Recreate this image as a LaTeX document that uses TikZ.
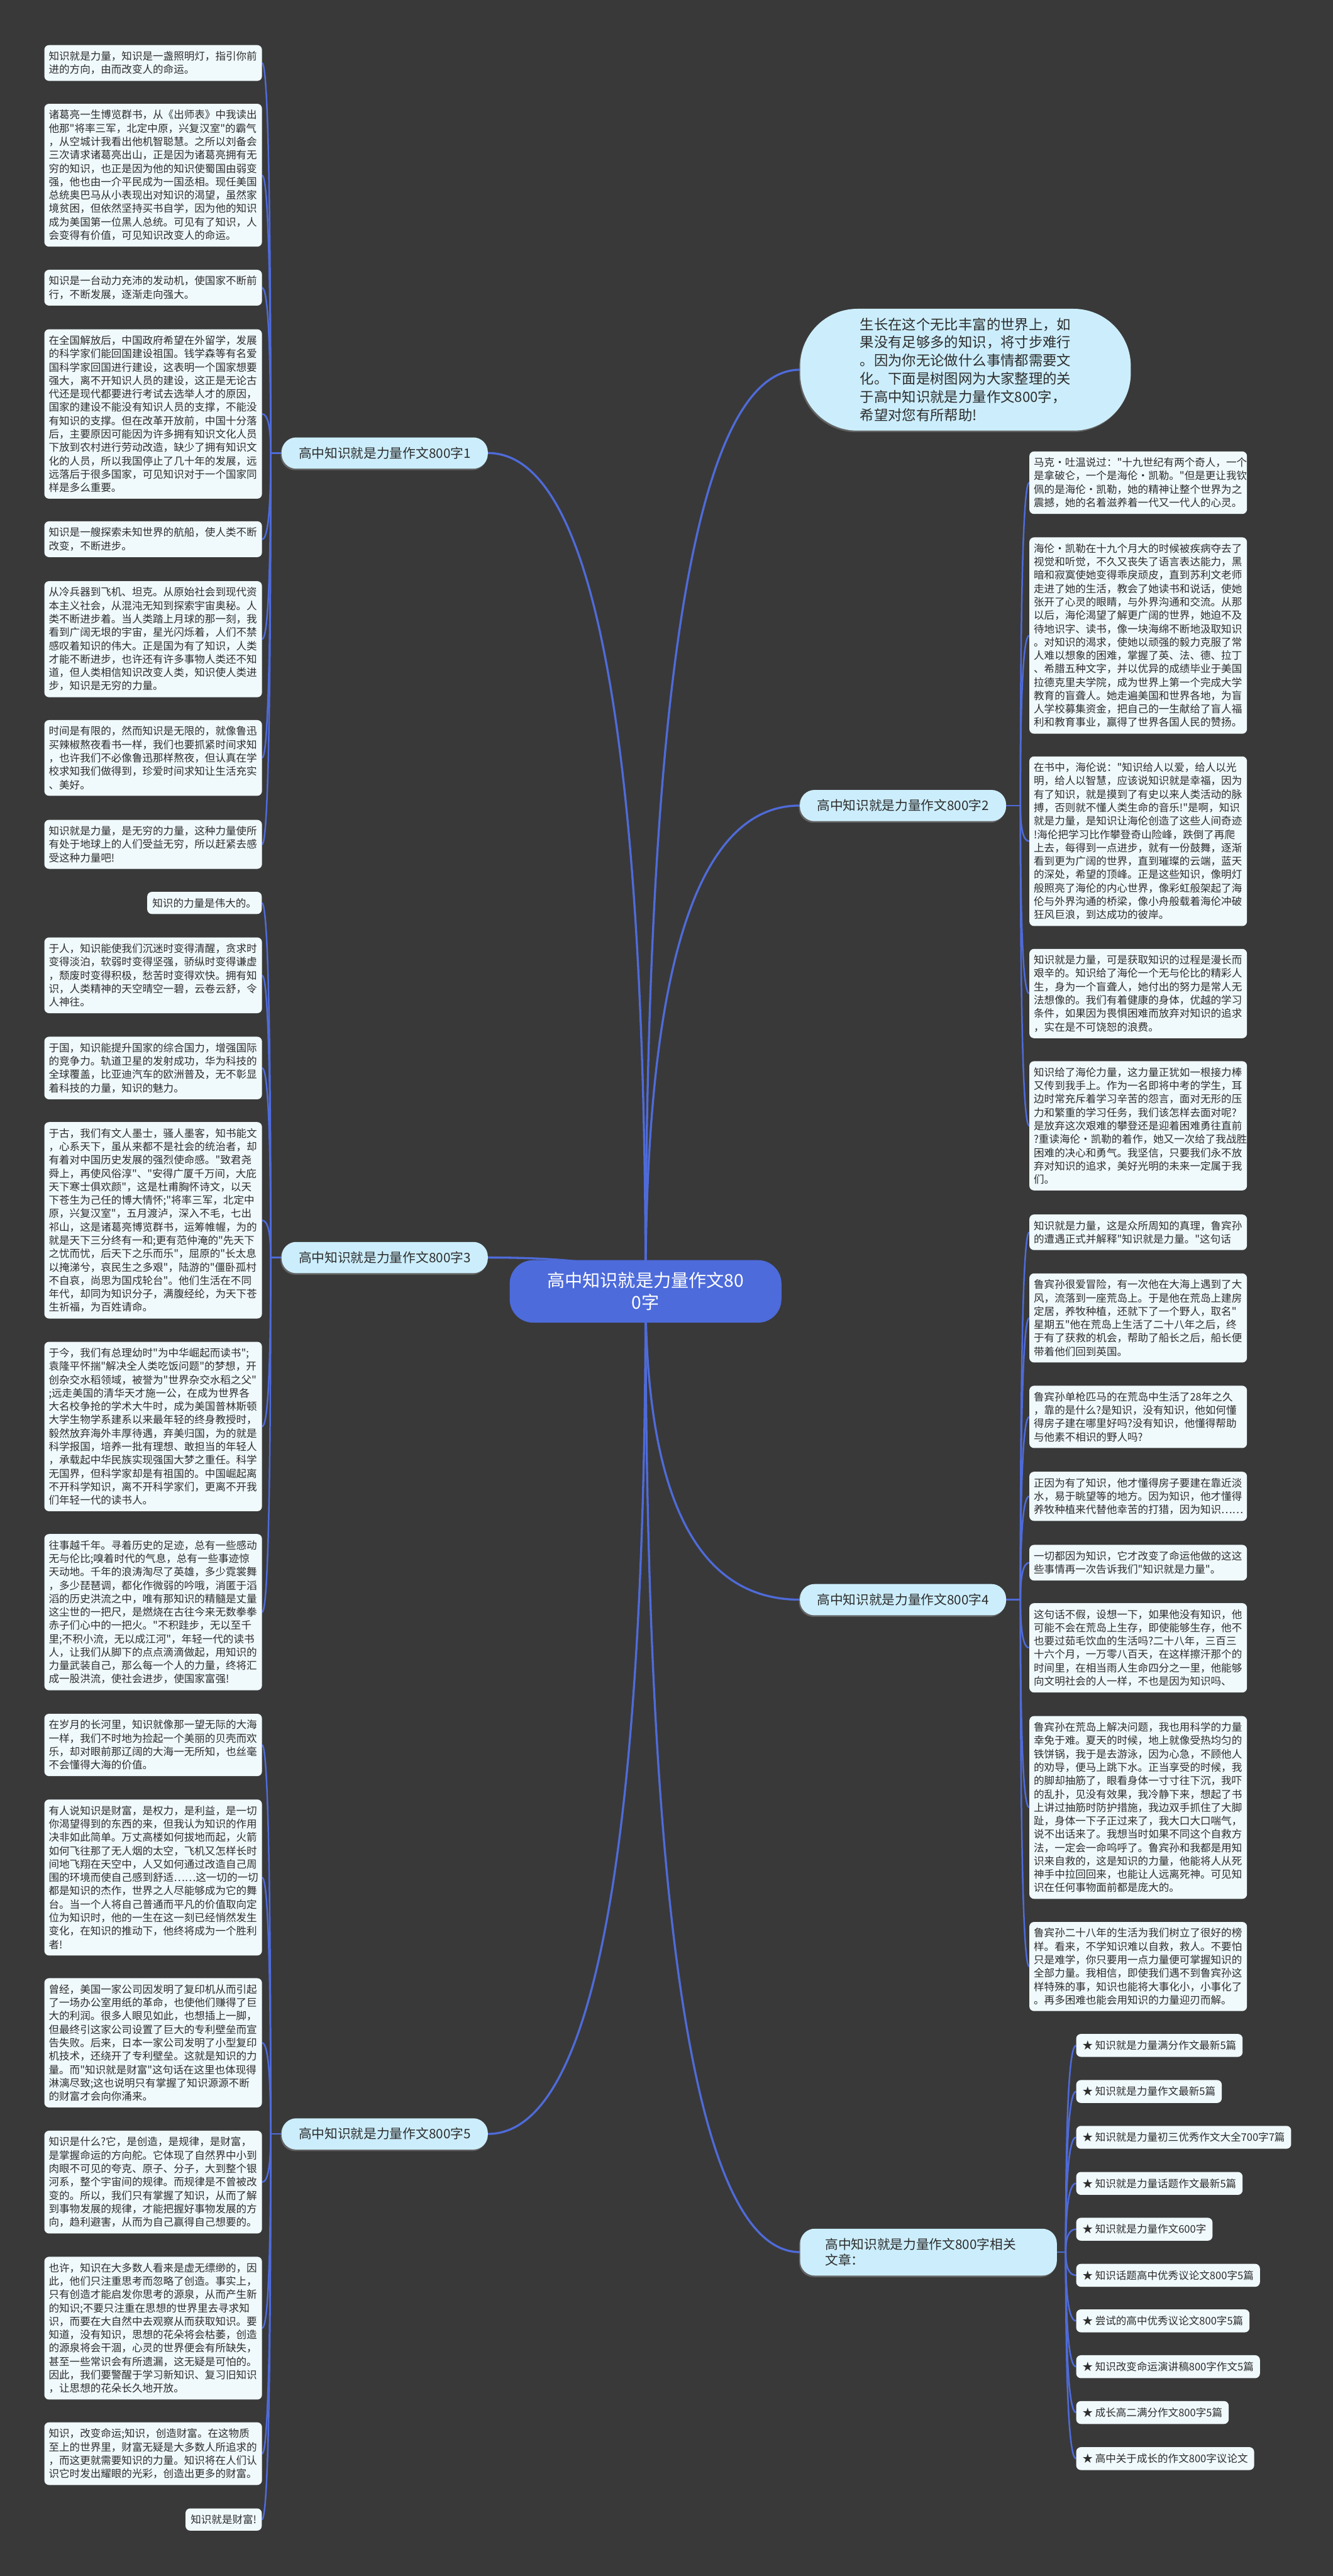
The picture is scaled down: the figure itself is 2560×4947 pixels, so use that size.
\documentclass[tikz,border=0pt]{standalone}
\usepackage{fontspec}
\setmainfont{Noto Sans CJK SC}[Ligatures=TeXOff]
\usetikzlibrary{calc, backgrounds, shadows}
\definecolor{bgdark}{RGB}{57,57,57}
\definecolor{linkblue}{RGB}{79,107,217}
\definecolor{hubblue}{RGB}{77,107,219}
\definecolor{branchcyan}{RGB}{204,238,252}
\definecolor{cardwhite}{RGB}{240,249,252}
\definecolor{inkgray}{RGB}{45,45,45}
\tikzset{
  curve/.style={to path={.. controls ($(\tikztostart)!0.667!(\tikztostart|-\tikztotarget)$) and ($(\tikztotarget)!0.667!(\tikztostart|-\tikztotarget)$) .. (\tikztotarget)}},
}

\begin{document}
\begin{tikzpicture}[
    x=1pt, y=-1pt,
    every node/.style={text=inkgray, inner sep=0pt},
    card/.style={
      fill=cardwhite,
      rounded corners=9pt,
      text width=401pt,
      inner xsep=8.5pt,
      inner ysep=12pt,
      align=left,
      font=\fontsize{20}{25.7}\selectfont
    },
    shortcard/.style={
      fill=cardwhite,
      rounded corners=9pt,
      inner xsep=10pt,
      inner ysep=12pt,
      font=\fontsize{20}{25.7}\selectfont
    },
    staritem/.style={
      fill=cardwhite,
      rounded corners=9pt,
      inner xsep=12pt,
      minimum height=44pt,
      font=\fontsize{20}{25.7}\selectfont
    },
    branch/.style={
      fill=branchcyan,
      rounded corners=28pt,
      minimum width=396pt,
      minimum height=60pt,
      font=\fontsize{25}{30}\selectfont,
      drop shadow={shadow xshift=-2pt, shadow yshift=-3pt, opacity=0.6}
    },
    hub/.style={
      fill=hubblue,
      text=white,
      rounded corners=45pt,
      minimum width=522pt,
      minimum height=120pt,
      align=center,
      font=\fontsize{34}{42}\selectfont
    },
    intro/.style={
      fill=branchcyan,
      rounded corners=110pt,
      minimum width=635pt,
      minimum height=234pt,
      text width=405pt,
      align=left,
      font=\fontsize{27}{35}\selectfont,
      drop shadow={shadow xshift=-2pt, shadow yshift=-3pt, opacity=0.6}
    },
    trunk/.style={draw=linkblue, line width=4pt},
    twig/.style={draw=linkblue, line width=3pt}
  ]
  \useasboundingbox (0,0) rectangle (2560,4947);

  % Main objects
  \node[hub] (hub) at (1240,2480) {高中知识就是力量作文80\\0字};
  \node[intro] (intro) at (1854.5,710)
    {生长在这个无比丰富的世界上，如\\果没有足够多的知识，将寸步难行\\。因为你无论做什么事情都需要文\\化。下面是树图网为大家整理的关\\于高中知识就是力量作文800字，\\希望对您有所帮助!};

  \node[branch] (br1) at (739,870) {高中知识就是力量作文800字1};
  \node[branch] (br3) at (739,2415) {高中知识就是力量作文800字3};
  \node[branch] (br5) at (739,4098) {高中知识就是力量作文800字5};
  \node[branch] (br2) at (1734.5,1547) {高中知识就是力量作文800字2};
  \node[branch] (br4) at (1734.5,3072) {高中知识就是力量作文800字4};
  \node[branch, align=left, text width=397pt, minimum width=493pt, minimum height=90pt] (rel) at (1783.5,4325)
    {高中知识就是力量作文800字相关\\文章：};

  % Branch 1
  \node[card, anchor=west] (b1) at (85,121)
    {知识就是力量，知识是一盏照明灯，指引你前\\进的方向，由而改变人的命运。};
  \node[card, anchor=west] (b2) at (85,336.5)
    {诸葛亮一生博览群书，从《出师表》中我读出\\他那"将率三军，北定中原，兴复汉室"的霸气\\，从空城计我看出他机智聪慧。之所以刘备会\\三次请求诸葛亮出山，正是因为诸葛亮拥有无\\穷的知识，也正是因为他的知识使蜀国由弱变\\强，他也由一介平民成为一国丞相。现任美国\\总统奥巴马从小表现出对知识的渴望，虽然家\\境贫困，但依然坚持买书自学，因为他的知识\\成为美国第一位黑人总统。可见有了知识，人\\会变得有价值，可见知识改变人的命运。};
  \node[card, anchor=west] (b3) at (85,552.5)
    {知识是一台动力充沛的发动机，使国家不断前\\行，不断发展，逐渐走向强大。};
  \node[card, anchor=west] (b4) at (85,795)
    {在全国解放后，中国政府希望在外留学，发展\\的科学家们能回国建设祖国。钱学森等有名爱\\国科学家回国进行建设，这表明一个国家想要\\强大，离不开知识人员的建设，这正是无论古\\代还是现代都要进行考试去选举人才的原因，\\国家的建设不能没有知识人员的支撑，不能没\\有知识的支撑。但在改革开放前，中国十分落\\后，主要原因可能因为许多拥有知识文化人员\\下放到农村进行劳动改造，缺少了拥有知识文\\化的人员，所以我国停止了几十年的发展，远\\远落后于很多国家，可见知识对于一个国家同\\样是多么重要。};
  \node[card, anchor=west] (b5) at (85,1035.5)
    {知识是一艘探索未知世界的航船，使人类不断\\改变，不断进步。};
  \node[card, anchor=west] (b6) at (85,1227.5)
    {从冷兵器到飞机、坦克。从原始社会到现代资\\本主义社会，从混沌无知到探索宇宙奥秘。人\\类不断进步着。当人类踏上月球的那一刻，我\\看到广阔无垠的宇宙，星光闪烁着，人们不禁\\感叹着知识的伟大。正是国为有了知识，人类\\才能不断进步，也许还有许多事物人类还不知\\道，但人类相信知识改变人类，知识使人类进\\步，知识是无穷的力量。};
  \node[card, anchor=west] (b7) at (85,1455.5)
    {时间是有限的，然而知识是无限的，就像鲁迅\\买辣椒熬夜看书一样，我们也要抓紧时间求知\\，也许我们不必像鲁迅那样熬夜，但认真在学\\校求知我们做得到，珍爱时间求知让生活充实\\、美好。};
  \node[card, anchor=west] (b8) at (85,1621.5)
    {知识就是力量，是无穷的力量，这种力量使所\\有处于地球上的人们受益无穷，所以赶紧去感\\受这种力量吧!};

  % Branch 3
  \node[shortcard, anchor=east] (b9) at (503,1734) {知识的力量是伟大的。};
  \node[card, anchor=west] (b10) at (85,1873)
    {于人，知识能使我们沉迷时变得清醒，贪求时\\变得淡泊，软弱时变得坚强，骄纵时变得谦虚\\，颓废时变得积极，愁苦时变得欢快。拥有知\\识，人类精神的天空晴空一碧，云卷云舒，令\\人神往。};
  \node[card, anchor=west] (b11) at (85,2051)
    {于国，知识能提升国家的综合国力，增强国际\\的竞争力。轨道卫星的发射成功，华为科技的\\全球覆盖，比亚迪汽车的欧洲普及，无不彰显\\着科技的力量，知识的魅力。};
  \node[card, anchor=west] (b12) at (85,2343.5)
    {于古，我们有文人墨士，骚人墨客，知书能文\\，心系天下，虽从来都不是社会的统治者，却\\有着对中国历史发展的强烈使命感。"致君尧\\舜上，再使风俗淳"、"安得广厦千万间，大庇\\天下寒士俱欢颜"，这是杜甫胸怀诗文，以天\\下苍生为己任的博大情怀;"将率三军，北定中\\原，兴复汉室"，五月渡泸，深入不毛，七出\\祁山，这是诸葛亮博览群书，运筹帷幄，为的\\就是天下三分终有一和;更有范仲淹的"先天下\\之忧而忧，后天下之乐而乐"，屈原的"长太息\\以掩涕兮，哀民生之多艰"，陆游的"僵卧孤村\\不自哀，尚思为国戍轮台"。他们生活在不同\\年代，却同为知识分子，满腹经纶，为天下苍\\生祈福，为百姓请命。};
  \node[card, anchor=west] (b13) at (85,2739.5)
    {于今，我们有总理幼时"为中华崛起而读书";\\袁隆平怀揣"解决全人类吃饭问题"的梦想，开\\创杂交水稻领域，被誉为"世界杂交水稻之父"\\;远走美国的清华天才施一公，在成为世界各\\大名校争抢的学术大牛时，成为美国普林斯顿\\大学生物学系建系以来最年轻的终身教授时，\\毅然放弃海外丰厚待遇，弃美归国，为的就是\\科学报国，培养一批有理想、敢担当的年轻人\\，承载起中华民族实现强国大梦之重任。科学\\无国界，但科学家却是有祖国的。中国崛起离\\不开科学知识，离不开科学家们，更离不开我\\们年轻一代的读书人。};
  \node[card, anchor=west] (b14) at (85,3096)
    {往事越千年。寻着历史的足迹，总有一些感动\\无与伦比;嗅着时代的气息，总有一些事迹惊\\天动地。千年的浪涛淘尽了英雄，多少霓裳舞\\，多少琵琶调，都化作微弱的吟哦，消匿于滔\\滔的历史洪流之中，唯有那知识的精髓是丈量\\这尘世的一把尺，是燃烧在古往今来无数拳拳\\赤子们心中的一把火。"不积跬步，无以至千\\里;不积小流，无以成江河"，年轻一代的读书\\人，让我们从脚下的点点滴滴做起，用知识的\\力量武装自己，那么每一个人的力量，终将汇\\成一股洪流，使社会进步，使国家富强!};

  % Branch 5
  \node[card, anchor=west] (b15) at (85,3351)
    {在岁月的长河里，知识就像那一望无际的大海\\一样，我们不时地为捡起一个美丽的贝壳而欢\\乐，却对眼前那辽阔的大海一无所知，也丝毫\\不会懂得大海的价值。};
  \node[card, anchor=west] (b16) at (85,3605.5)
    {有人说知识是财富，是权力，是利益，是一切\\你渴望得到的东西的来，但我认为知识的作用\\决非如此简单。万丈高楼如何拔地而起，火箭\\如何飞往那了无人烟的太空，飞机又怎样长时\\间地飞翔在天空中，人又如何通过改造自己周\\围的环境而使自己感到舒适……这一切的一切\\都是知识的杰作，世界之人尽能够成为它的舞\\台。当一个人将自己普通而平凡的价值取向定\\位为知识时，他的一生在这一刻已经悄然发生\\变化，在知识的推动下，他终将成为一个胜利\\者!};
  \node[card, anchor=west] (b17) at (85,3923)
    {曾经，美国一家公司因发明了复印机从而引起\\了一场办公室用纸的革命，也使他们赚得了巨\\大的利润。很多人眼见如此，也想插上一脚，\\但最终引这家公司设置了巨大的专利壁垒而宣\\告失败。后来，日本一家公司发明了小型复印\\机技术，还绕开了专利壁垒。这就是知识的力\\量。而"知识就是财富"这句话在这里也体现得\\淋漓尽致;这也说明只有掌握了知识源源不断\\的财富才会向你涌来。};
  \node[card, anchor=west] (b18) at (85,4190.5)
    {知识是什么?它，是创造，是规律，是财富，\\是掌握命运的方向舵。它体现了自然界中小到\\肉眼不可见的夸克、原子、分子，大到整个银\\河系，整个宇宙间的规律。而规律是不曾被改\\变的。所以，我们只有掌握了知识，从而了解\\到事物发展的规律，才能把握好事物发展的方\\向，趋利避害，从而为自己赢得自己想要的。};
  \node[card, anchor=west] (b19) at (85,4471)
    {也许，知识在大多数人看来是虚无缥缈的，因\\此，他们只注重思考而忽略了创造。事实上，\\只有创造才能启发你思考的源泉，从而产生新\\的知识;不要只注重在思想的世界里去寻求知\\识，而要在大自然中去观察从而获取知识。要\\知道，没有知识，思想的花朵将会枯萎，创造\\的源泉将会干涸，心灵的世界便会有所缺失，\\甚至一些常识会有所遗漏，这无疑是可怕的。\\因此，我们要警醒于学习新知识、复习旧知识\\，让思想的花朵长久地开放。};
  \node[card, anchor=west] (b20) at (85,4712)
    {知识，改变命运;知识，创造财富。在这物质\\至上的世界里，财富无疑是大多数人所追求的\\，而这更就需要知识的力量。知识将在人们认\\识它时发出耀眼的光彩，创造出更多的财富。};
  \node[shortcard, anchor=east] (b21) at (503,4838.5) {知识就是财富!};

  % Branch 2
  \node[card, anchor=west] (r1) at (1977,927)
    {马克·吐温说过："十九世纪有两个奇人，一个\\是拿破仑，一个是海伦·凯勒。"但是更让我钦\\佩的是海伦·凯勒，她的精神让整个世界为之\\震撼，她的名着滋养着一代又一代人的心灵。};
  \node[card, anchor=west] (r2) at (1977,1220.5)
    {海伦·凯勒在十九个月大的时候被疾病夺去了\\视觉和听觉，不久又丧失了语言表达能力，黑\\暗和寂寞使她变得乖戾顽皮，直到苏利文老师\\走进了她的生活，教会了她读书和说话，使她\\张开了心灵的眼睛，与外界沟通和交流。从那\\以后，海伦渴望了解更广阔的世界，她迫不及\\待地识字、读书，像一块海绵不断地汲取知识\\。对知识的渴求，使她以顽强的毅力克服了常\\人难以想象的困难，掌握了英、法、德、拉丁\\、希腊五种文字，并以优异的成绩毕业于美国\\拉德克里夫学院，成为世界上第一个完成大学\\教育的盲聋人。她走遍美国和世界各地，为盲\\人学校募集资金，把自己的一生献给了盲人福\\利和教育事业，赢得了世界各国人民的赞扬。};
  \node[card, anchor=west] (r3) at (1977,1615.5)
    {在书中，海伦说："知识给人以爱，给人以光\\明，给人以智慧，应该说知识就是幸福，因为\\有了知识，就是摸到了有史以来人类活动的脉\\搏，否则就不懂人类生命的音乐!"是啊，知识\\就是力量，是知识让海伦创造了这些人间奇迹\\!海伦把学习比作攀登奇山险峰，跌倒了再爬\\上去，每得到一点进步，就有一份鼓舞，逐渐\\看到更为广阔的世界，直到璀璨的云端，蓝天\\的深处，希望的顶峰。正是这些知识，像明灯\\般照亮了海伦的内心世界，像彩虹般架起了海\\伦与外界沟通的桥梁，像小舟般载着海伦冲破\\狂风巨浪，到达成功的彼岸。};
  \node[card, anchor=west] (r4) at (1977,1908)
    {知识就是力量，可是获取知识的过程是漫长而\\艰辛的。知识给了海伦一个无与伦比的精彩人\\生，身为一个盲聋人，她付出的努力是常人无\\法想像的。我们有着健康的身体，优越的学习\\条件，如果因为畏惧困难而放弃对知识的追求\\，实在是不可饶恕的浪费。};
  \node[card, anchor=west] (r5) at (1977,2162)
    {知识给了海伦力量，这力量正犹如一根接力棒\\又传到我手上。作为一名即将中考的学生，耳\\边时常充斥着学习辛苦的怨言，面对无形的压\\力和繁重的学习任务，我们该怎样去面对呢?\\是放弃这次艰难的攀登还是迎着困难勇往直前\\?重读海伦·凯勒的着作，她又一次给了我战胜\\困难的决心和勇气。我坚信，只要我们永不放\\弃对知识的追求，美好光明的未来一定属于我\\们。};

  % Branch 4
  \node[card, anchor=west] (r6) at (1977,2366.5)
    {知识就是力量，这是众所周知的真理，鲁宾孙\\的遭遇正式并解释"知识就是力量。"这句话};
  \node[card, anchor=west] (r7) at (1977,2531)
    {鲁宾孙很爱冒险，有一次他在大海上遇到了大\\风，流落到一座荒岛上。于是他在荒岛上建房\\定居，养牧种植，还就下了一个野人，取名"\\星期五"他在荒岛上生活了二十八年之后，终\\于有了获救的机会，帮助了船长之后，船长便\\带着他们回到英国。};
  \node[card, anchor=west] (r8) at (1977,2721)
    {鲁宾孙单枪匹马的在荒岛中生活了28年之久\\，靠的是什么?是知识，没有知识，他如何懂\\得房子建在哪里好吗?没有知识，他懂得帮助\\与他素不相识的野人吗?};
  \node[card, anchor=west] (r9) at (1977,2873.5)
    {正因为有了知识，他才懂得房子要建在靠近淡\\水，易于眺望等的地方。因为知识，他才懂得\\养牧种植来代替他幸苦的打猎，因为知识……};
  \node[card, anchor=west] (r10) at (1977,3001)
    {一切都因为知识，它才改变了命运他做的这这\\些事情再一次告诉我们"知识就是力量"。};
  \node[card, anchor=west] (r11) at (1977,3164.5)
    {这句话不假，设想一下，如果他没有知识，他\\可能不会在荒岛上生存，即使能够生存，他不\\也要过茹毛饮血的生活吗?二十八年，三百三\\十六个月，一万零八百天，在这样擦汗那个的\\时间里，在相当雨人生命四分之一里，他能够\\向文明社会的人一样，不也是因为知识吗、};
  \node[card, anchor=west] (r12) at (1977,3471)
    {鲁宾孙在荒岛上解决问题，我也用科学的力量\\幸免于难。夏天的时候，地上就像受热均匀的\\铁饼锅，我于是去游泳，因为心急，不顾他人\\的劝导，便马上跳下水。正当享受的时候，我\\的脚却抽筋了，眼看身体一寸寸往下沉，我吓\\的乱扑，见没有效果，我冷静下来，想起了书\\上讲过抽筋时防护措施，我边双手抓住了大脚\\趾，身体一下子正过来了，我大口大口喘气，\\说不出话来了。我想当时如果不同这个自救方\\法，一定会一命呜呼了。鲁宾孙和我都是用知\\识来自救的，这是知识的力量，他能将人从死\\神手中拉回回来，也能让人远离死神。可见知\\识在任何事物面前都是庞大的。};
  \node[card, anchor=west] (r13) at (1977,3776.5)
    {鲁宾孙二十八年的生活为我们树立了很好的榜\\样。看来，不学知识难以自救，救人。不要怕\\只是难学，你只要用一点力量便可掌握知识的\\全部力量。我相信，即使我们遇不到鲁宾孙这\\样特殊的事，知识也能将大事化小，小事化了\\。再多困难也能会用知识的力量迎刃而解。};

  % Related articles
  \node[staritem, anchor=west] (s1) at (2067,3928) {★ 知识就是力量满分作文最新5篇};
  \node[staritem, anchor=west] (s2) at (2067,4016.5) {★ 知识就是力量作文最新5篇};
  \node[staritem, anchor=west] (s3) at (2067,4104.5) {★ 知识就是力量初三优秀作文大全700字7篇};
  \node[staritem, anchor=west] (s4) at (2067,4193) {★ 知识就是力量话题作文最新5篇};
  \node[staritem, anchor=west] (s5) at (2067,4281) {★ 知识就是力量作文600字};
  \node[staritem, anchor=west] (s6) at (2067,4369.5) {★ 知识话题高中优秀议论文800字5篇};
  \node[staritem, anchor=west] (s7) at (2067,4457) {★ 尝试的高中优秀议论文800字5篇};
  \node[staritem, anchor=west] (s8) at (2067,4545) {★ 知识改变命运演讲稿800字作文5篇};
  \node[staritem, anchor=west] (s9) at (2067,4633) {★ 成长高二满分作文800字5篇};
  \node[staritem, anchor=west] (s10) at (2067,4721.5) {★ 高中关于成长的作文800字议论文};

  % Forks
  \coordinate (br1hub) at (520,870);
  \coordinate (br3hub) at (520,2415);
  \coordinate (br5hub) at (520,4098);
  \coordinate (br2hub) at (1960,1547);
  \coordinate (br4hub) at (1960,3072);
  \coordinate (relhub) at (2047,4325);

  % Connectors
  \begin{scope}[on background layer]
    \fill[bgdark] (0,0) rectangle (2560,4947);
    \draw[trunk] (hub.center) to[curve] (intro.west);
    \draw[trunk] (hub.center) to[curve] (br1.east);
    \draw[trunk] (hub.center) to[curve] (br3.east);
    \draw[trunk] (hub.center) to[curve] (br5.east);
    \draw[trunk] (hub.center) to[curve] (br2.west);
    \draw[trunk] (hub.center) to[curve] (br4.west);
    \draw[trunk] (hub.center) to[curve] (rel.west);

    \draw[twig] (br1.west) -- (br1hub);
    \draw[twig] (br1hub) to[curve] (b1.east);
    \draw[twig] (br1hub) to[curve] (b2.east);
    \draw[twig] (br1hub) to[curve] (b3.east);
    \draw[twig] (br1hub) to[curve] (b4.east);
    \draw[twig] (br1hub) to[curve] (b5.east);
    \draw[twig] (br1hub) to[curve] (b6.east);
    \draw[twig] (br1hub) to[curve] (b7.east);
    \draw[twig] (br1hub) to[curve] (b8.east);

    \draw[twig] (br3.west) -- (br3hub);
    \draw[twig] (br3hub) to[curve] (b9.east);
    \draw[twig] (br3hub) to[curve] (b10.east);
    \draw[twig] (br3hub) to[curve] (b11.east);
    \draw[twig] (br3hub) to[curve] (b12.east);
    \draw[twig] (br3hub) to[curve] (b13.east);
    \draw[twig] (br3hub) to[curve] (b14.east);

    \draw[twig] (br5.west) -- (br5hub);
    \draw[twig] (br5hub) to[curve] (b15.east);
    \draw[twig] (br5hub) to[curve] (b16.east);
    \draw[twig] (br5hub) to[curve] (b17.east);
    \draw[twig] (br5hub) to[curve] (b18.east);
    \draw[twig] (br5hub) to[curve] (b19.east);
    \draw[twig] (br5hub) to[curve] (b20.east);
    \draw[twig] (br5hub) to[curve] (b21.east);

    \draw[twig] (br2.east) -- (br2hub);
    \draw[twig] (br2hub) to[curve] (r1.west);
    \draw[twig] (br2hub) to[curve] (r2.west);
    \draw[twig] (br2hub) to[curve] (r3.west);
    \draw[twig] (br2hub) to[curve] (r4.west);
    \draw[twig] (br2hub) to[curve] (r5.west);

    \draw[twig] (br4.east) -- (br4hub);
    \draw[twig] (br4hub) to[curve] (r6.west);
    \draw[twig] (br4hub) to[curve] (r7.west);
    \draw[twig] (br4hub) to[curve] (r8.west);
    \draw[twig] (br4hub) to[curve] (r9.west);
    \draw[twig] (br4hub) to[curve] (r10.west);
    \draw[twig] (br4hub) to[curve] (r11.west);
    \draw[twig] (br4hub) to[curve] (r12.west);
    \draw[twig] (br4hub) to[curve] (r13.west);

    \draw[twig] (rel.east) -- (relhub);
    \draw[twig] (relhub) to[curve] (s1.west);
    \draw[twig] (relhub) to[curve] (s2.west);
    \draw[twig] (relhub) to[curve] (s3.west);
    \draw[twig] (relhub) to[curve] (s4.west);
    \draw[twig] (relhub) to[curve] (s5.west);
    \draw[twig] (relhub) to[curve] (s6.west);
    \draw[twig] (relhub) to[curve] (s7.west);
    \draw[twig] (relhub) to[curve] (s8.west);
    \draw[twig] (relhub) to[curve] (s9.west);
    \draw[twig] (relhub) to[curve] (s10.west);
  \end{scope}
\end{tikzpicture}
\end{document}
